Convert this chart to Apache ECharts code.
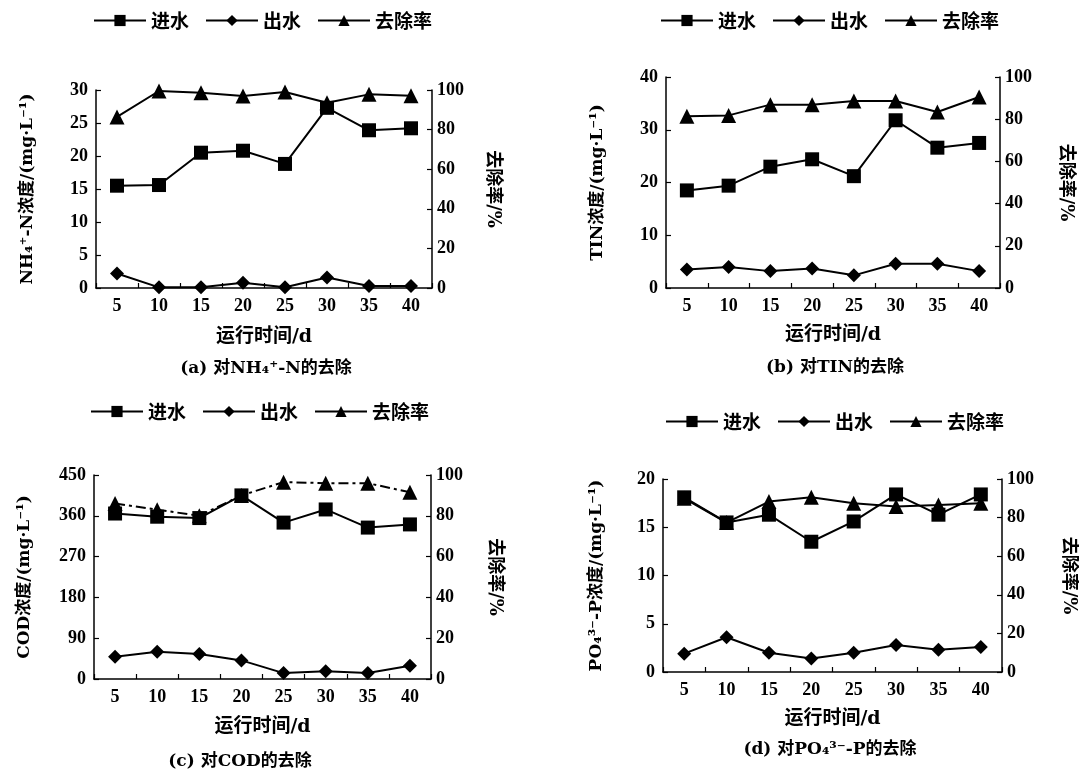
<!DOCTYPE html>
<html><head><meta charset="utf-8">
<script src="https://cdn.jsdelivr.net/npm/echarts@6/dist/echarts.min.js"></script>
<style>html,body{margin:0;padding:0;background:#fff}#c{width:1079px;height:775px}</style>
</head><body><div id="c"></div>
<script>
const days = ['5','10','15','20','25','30','35','40'];
const seriesNames = ['进水','出水','去除率'];
const aInflow  = [15.5,15.6,20.5,20.8,18.8,27.3,23.9,24.2];
const aOutflow = [2.2,0.1,0.1,0.8,0.1,1.6,0.3,0.3];
const aRemoval = [86.4,99.5,98.6,97,99,93.6,97.8,97.1];
const bInflow  = [18.5,19.4,23.0,24.4,21.2,31.8,26.6,27.5];
const bOutflow = [3.5,4.0,3.2,3.7,2.4,4.6,4.6,3.2];
const bRemoval = [81.4,81.8,86.9,86.9,88.6,88.6,83.4,90.5];
const cInflow  = [365,358,355,405,345,374,334,341];
const cOutflow = [49,60,55,41,13,17,13,29];
const cRemoval = [86,83,80,90,96.5,96,96,91.5];
const dInflow  = [18.1,15.5,16.3,13.5,15.6,18.4,16.3,18.4];
const dOutflow = [1.9,3.6,2.0,1.4,2.0,2.8,2.3,2.6];
const dRemoval = [90,77.4,88.3,90.5,87.4,85.7,86.5,87.4];
const leftNames = ['NH₄⁺-N浓度/(mg·L⁻¹)','TIN浓度/(mg·L⁻¹)','COD浓度/(mg·L⁻¹)','PO₄³⁻-P浓度/(mg·L⁻¹)'];
const leftMax = [30,40,450,20];
const leftInterval = [5,10,90,5];
const captions = ['(a) 对NH₄⁺-N的去除','(b) 对TIN的去除','(c) 对COD的去除','(d) 对PO₄³⁻-P的去除'];
const xName = '运行时间/d';
const rightName = '去除率/%';

const NUMFONT = '"Liberation Serif","Noto Sans CJK SC",serif';
const NAMEFONT = '"DejaVu Serif","Noto Sans CJK SC",serif';
const CJKFONT = '"Noto Sans CJK SC",sans-serif';
const grids = [
  {left:96, top:90, width:336, height:198},
  {left:666, top:77, width:334, height:211},
  {left:94, top:475, width:337, height:204},
  {left:663, top:479, width:340, height:193}
];
const leftGap = [60,60,61,58];
const rightGap = [52,57,55,58];
const xGap = [40,38,39,38];
const legendPos = [{x:93,y:11},{x:660,y:11},{x:90,y:402},{x:665,y:412}];
const captionPos = [{x:266,y:369},{x:835,y:368},{x:240,y:762},{x:830,y:750}];
const data = [
  [aInflow,aOutflow,aRemoval],
  [bInflow,bOutflow,bRemoval],
  [cInflow,cOutflow,cRemoval],
  [dInflow,dOutflow,dRemoval]
];
const axisLine = {show:true, lineStyle:{color:'#000', width:1.5}};
const labelStyle = {color:'#000', fontFamily:NUMFONT, fontWeight:'bold', fontSize:18};
const nameStyle = {color:'#000', fontFamily:NAMEFONT, fontWeight:'bold', fontSize:17};
const xNameStyle = {color:'#000', fontFamily:NAMEFONT, fontWeight:'bold', fontSize:19};
const rNameStyle = {color:'#000', fontFamily:NAMEFONT, fontWeight:'bold', fontSize:18};
const tick = {show:true, inside:true, length:5, lineStyle:{color:'#000', width:1.2}};

const xAxis = [], yAxis = [], series = [], legend = [], graphic = [];
grids.forEach((g,i)=>{
  xAxis.push({type:'category', gridIndex:i, data:days, boundaryGap:true,
    axisLine, axisTick:tick,
    axisLabel:{...labelStyle, margin:9}, name:xName, nameLocation:'middle', nameGap:xGap[i],
    nameTextStyle:xNameStyle, splitLine:{show:false}});
  yAxis.push({type:'value', gridIndex:i, min:0, max:leftMax[i], interval:leftInterval[i],
    axisLine, axisTick:tick,
    axisLabel:{...labelStyle, margin:8}, splitLine:{show:false},
    name:leftNames[i], nameLocation:'middle', nameGap:leftGap[i], nameTextStyle:nameStyle});
  yAxis.push({type:'value', gridIndex:i, position:'right', min:0, max:100, interval:20,
    axisLine, axisTick:tick,
    axisLabel:{...labelStyle, margin:5}, splitLine:{show:false},
    name:rightName, nameLocation:'middle', nameRotate:-90, nameGap:rightGap[i], nameTextStyle:rNameStyle});
  const [inf,out,rem] = data[i];
  series.push({name:seriesNames[0], type:'line', xAxisIndex:i, yAxisIndex:2*i, data:inf,
    symbol:'rect', symbolSize:14, itemStyle:{color:'#000'}, lineStyle:{color:'#000', width:2}, z:3});
  series.push({name:seriesNames[1], type:'line', xAxisIndex:i, yAxisIndex:2*i, data:out,
    symbol:'diamond', symbolSize:14, itemStyle:{color:'#000'}, lineStyle:{color:'#000', width:2}, z:3});
  series.push({name:seriesNames[2], type:'line', xAxisIndex:i, yAxisIndex:2*i+1, data:rem,
    symbol:'triangle', symbolSize:15, itemStyle:{color:'#000'},
    lineStyle:{color:'#000', width:2, type: i===2 ? [10,4,3,4] : 'solid'}, z:3});
  legend.push({data:seriesNames, left:legendPos[i].x, top:legendPos[i].y, width:420,
    orient:'horizontal', itemWidth:52, itemHeight:14, itemGap:16, selectedMode:false, padding:0,
    textStyle:{color:'#000', fontFamily:CJKFONT, fontWeight:'bold', fontSize:19}});
  graphic.push({type:'text', x:captionPos[i].x, y:captionPos[i].y,
    style:{text:captions[i], align:'center', verticalAlign:'middle', fill:'#000',
      font:'bold 17px '+NAMEFONT}});
});

const chart = echarts.init(document.getElementById('c'));
chart.setOption({
  animation:false, backgroundColor:'#fff',
  grid:grids, xAxis, yAxis, series, legend, graphic
});
</script>
</body></html>
